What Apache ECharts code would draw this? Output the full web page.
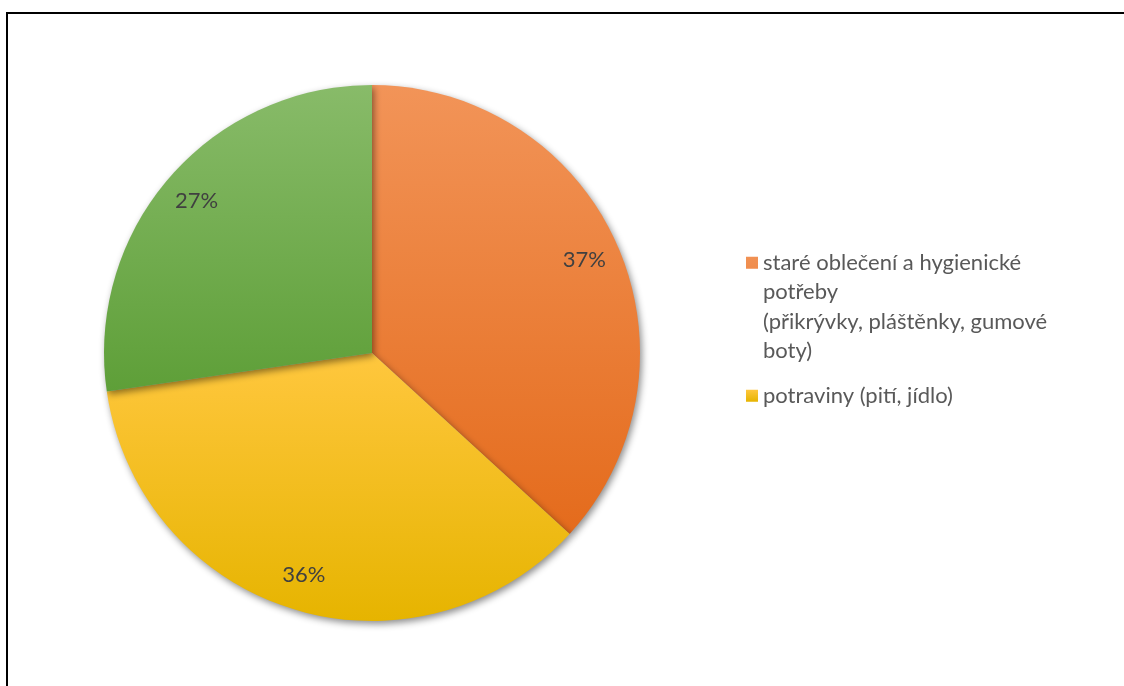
<!DOCTYPE html>
<html>
<head>
<meta charset="utf-8">
<script src="https://cdn.jsdelivr.net/npm/echarts@6/dist/echarts.min.js"></script>
<style>
html,body{margin:0;padding:0;background:#fff;}
#c{width:1124px;height:686px;}
</style>
</head>
<body>
<div id="c"></div>
<script>
const categories = [
  'staré oblečení a hygienické\npotřeby\n(přikrývky, pláštěnky, gumové\nboty)',
  'potraviny (pití, jídlo)',
  'ostatní'
];
const values = [36.8, 35.9, 27.3];
const legendItems = [categories[0], categories[1]];
const topColors = ['#F29458', '#FFC73E', '#88BB69'];
const bottomColors = ['#E46B1C', '#E6B400', '#5E9F38'];

const chart = echarts.init(document.getElementById('c'), null, {renderer: 'canvas'});
const FONT = 'Lato, "Open Sans", sans-serif';
const total = values.reduce((a, b) => a + b, 0);
const LH = 29.5;
const SQ = 12;

function topIcon(lines) {
  const h = lines * LH;
  const y = LH / 2 - SQ / 2;
  return 'path://M0,0L0.01,0 M0,' + h + 'L0.01,' + h +
    ' M0,' + y + 'L' + SQ + ',' + y + 'L' + SQ + ',' + (y + SQ) + 'L0,' + (y + SQ) + 'Z';
}

const pieData = categories.map((name, i) => ({
  name: name,
  value: values[i],
  itemStyle: {
    color: new echarts.graphic.LinearGradient(0, 0, 0, 1, [
      {offset: 0, color: topColors[i]},
      {offset: 1, color: bottomColors[i]}
    ])
  }
}));

const labelData = categories.map((name, i) => ({name: name, value: values[i]}));

const legendText = {
  fontFamily: FONT,
  fontSize: 22,
  color: '#595959',
  lineHeight: LH
};

const lines0 = legendItems[0].split('\n').length;

chart.setOption({
  animation: false,
  backgroundColor: '#ffffff',
  color: topColors,
  graphic: [{
    type: 'rect',
    shape: {x: 7, y: 13, width: 1140, height: 700},
    style: {fill: 'none', stroke: '#000', lineWidth: 2},
    z: 100
  }],
  legend: [{
    orient: 'vertical',
    left: 746,
    top: 248,
    padding: 0,
    data: [legendItems[0]],
    icon: topIcon(lines0),
    itemWidth: SQ,
    itemHeight: lines0 * LH,
    itemGap: 0,
    itemStyle: {borderWidth: 0},
    selectedMode: false,
    textStyle: legendText
  }, {
    orient: 'vertical',
    left: 746,
    top: 381,
    padding: 0,
    data: [legendItems[1]],
    icon: 'rect',
    itemWidth: SQ,
    itemHeight: SQ,
    itemGap: 0,
    itemStyle: {borderWidth: 0},
    selectedMode: false,
    textStyle: legendText
  }],
  series: [{
    type: 'pie',
    center: [372, 353],
    radius: [0, 268],
    startAngle: 90,
    clockwise: true,
    silent: true,
    data: pieData,
    itemStyle: {
      shadowBlur: 7,
      shadowOffsetX: 2,
      shadowOffsetY: 3,
      shadowColor: 'rgba(0,0,0,0.45)'
    },
    label: {show: false},
    labelLine: {show: false}
  }, {
    type: 'pie',
    center: [372, 353],
    radius: [190, 268],
    startAngle: 90,
    clockwise: true,
    silent: true,
    data: labelData,
    legendHoverLink: false,
    itemStyle: {color: 'rgba(0,0,0,0)'},
    label: {
      show: true,
      position: 'inner',
      fontFamily: FONT,
      fontSize: 22,
      color: '#404040',
      formatter: p => Math.round(p.value / total * 100) + '%'
    },
    labelLine: {show: false}
  }]
});
</script>
</body>
</html>
